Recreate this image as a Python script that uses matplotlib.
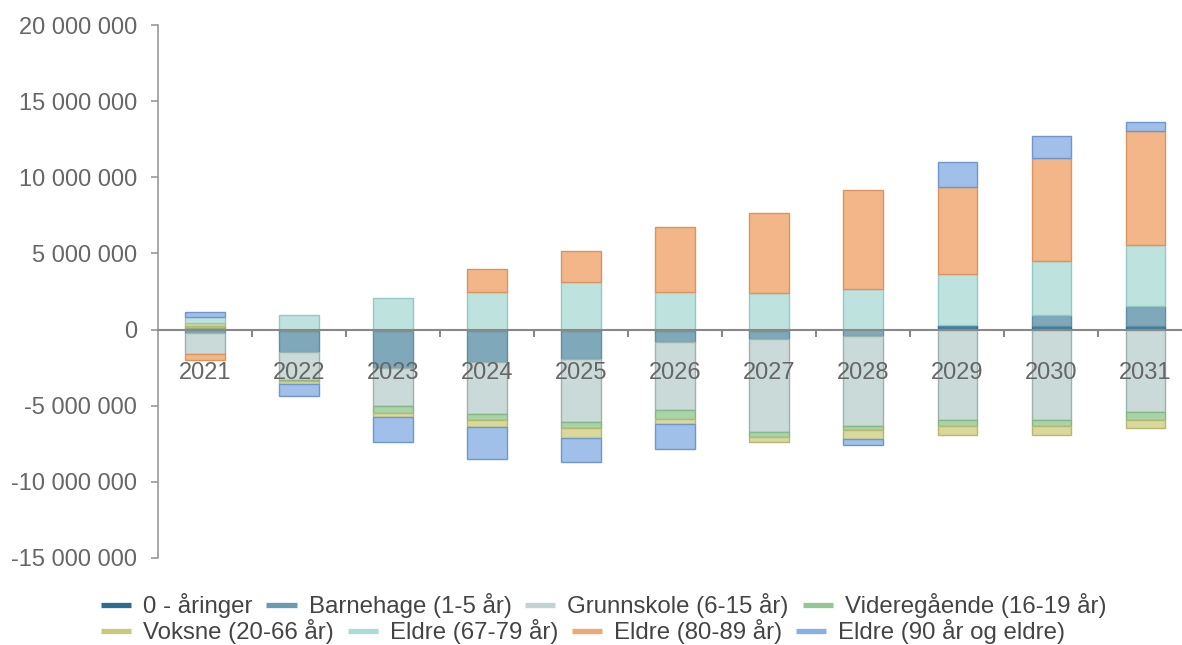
import numpy as np
import matplotlib
matplotlib.use("Agg")
import matplotlib.pyplot as plt
from matplotlib.ticker import FuncFormatter, FixedLocator
from matplotlib.lines import Line2D

plt.rcParams['font.family'] = ['Liberation Sans', 'DejaVu Sans']

years = ['2021', '2022', '2023', '2024', '2025', '2026', '2027', '2028', '2029', '2030', '2031']

# values in millions
null_aringer = [0.10, -0.10, -0.10, -0.10, -0.10, -0.10, -0.10, -0.05, 0.28, 0.22, 0.22]
barnehage = [-0.25, -1.35, -2.40, -2.05, -1.85, -0.70, -0.55, -0.35, 0.05, 0.76, 1.31]
grunnskole = [-1.35, -1.83, -2.55, -3.38, -4.10, -4.50, -6.10, -5.93, -5.93, -5.93, -5.40]
videregaende = [0.15, -0.10, -0.40, -0.44, -0.41, -0.54, -0.33, -0.26, -0.39, -0.39, -0.52]
voksne = [0.15, -0.20, -0.26, -0.44, -0.65, -0.35, -0.33, -0.57, -0.61, -0.61, -0.57]
eldre_67_79 = [0.45, 0.97, 2.10, 2.46, 3.15, 2.46, 2.40, 2.66, 3.30, 3.53, 4.03]
eldre_80_89 = [-0.40, 0.0, 0.0, 1.53, 2.03, 4.29, 5.23, 6.50, 5.73, 6.78, 7.47]
eldre_90 = [0.30, -0.78, -1.65, -2.07, -1.59, -1.68, 0.0, -0.42, 1.63, 1.39, 0.57]

labels = ['0 - åringer', 'Barnehage (1-5 år)', 'Grunnskole (6-15 år)', 'Videregående (16-19 år)',
          'Voksne (20-66 år)', 'Eldre (67-79 år)', 'Eldre (80-89 år)', 'Eldre (90 år og eldre)']
series = [null_aringer, barnehage, grunnskole, videregaende, voksne, eldre_67_79, eldre_80_89, eldre_90]
fills = ['#3f80a2', '#7fa9ba', '#c9dad8', '#a9d3a8', '#d8d99a', '#bee3df', '#f2b688', '#a1c0e9']
edges = ['#2d6a88', '#5f8fa3', '#9cb3b0', '#86b786', '#b7b872', '#94c8c2', '#d9955f', '#6f97cd']
legend_cols = ['#2b6d92', '#6a9bb2', '#c0d4d2', '#95c795', '#c9c97a', '#a9ddd6', '#f0a872', '#88afe8']

fig = plt.figure(figsize=(11.82, 6.45), dpi=100)
ax = fig.add_axes([158 / 1182, 87 / 645, 1 - 158 / 1182, 533 / 645])
ax.set_axisbelow(False)

x = np.arange(len(years))
pos_base = np.zeros(len(years))
neg_base = np.zeros(len(years))
for vals, fc, ec in zip(series, fills, edges):
    v = np.array(vals) * 1e6
    bottoms = np.where(v >= 0, pos_base, neg_base)
    mask = v != 0
    ax.bar(x[mask], v[mask], bottom=bottoms[mask], width=0.42, color=fc, edgecolor=ec,
           linewidth=1.0, zorder=1)
    pos_base = pos_base + np.where(v > 0, v, 0)
    neg_base = neg_base + np.where(v < 0, v, 0)

ax.set_ylim(-15e6, 20e6)
ax.set_xlim(-0.5, 10.39)
ax.set_yticks(np.arange(-15e6, 20e6 + 1, 5e6))
ax.yaxis.set_major_formatter(FuncFormatter(lambda v, p: f"{int(round(v)):,}".replace(",", " ")))

ax.spines['top'].set_visible(False)
ax.spines['right'].set_visible(False)
ax.spines['bottom'].set_position(('data', 0))
ax.spines['bottom'].set_color('#888888')
ax.spines['bottom'].set_linewidth(1.5)
ax.spines['bottom'].set_zorder(3)
ax.spines['left'].set_color('#999999')
ax.spines['left'].set_linewidth(1.2)

ax.set_xticks(x)
ax.set_xticklabels(years)
ax.xaxis.set_minor_locator(FixedLocator(x[:-1] + 0.5))
ax.tick_params(axis='x', which='major', length=0, pad=23, labelsize=17, labelcolor='#666666')
ax.tick_params(axis='x', which='minor', length=5, width=1.5, color='#888888', direction='out')
ax.tick_params(axis='y', length=5, width=1.2, color='#999999', pad=10, labelsize=17,
               labelcolor='#666666')

handles = [Line2D([0], [0], color=c, lw=3.8, solid_capstyle='butt') for c in legend_cols]
leg_kw = dict(frameon=False, ncol=4, handlelength=1.25, handletextpad=0.5, columnspacing=0.58,
              borderpad=0, borderaxespad=0, fontsize=17.3, labelcolor='#444444', loc='center left')
fig.legend(handles[:4], labels[:4], bbox_to_anchor=(101 / 1182, 1 - 606 / 645), **leg_kw)
fig.legend(handles[4:], labels[4:], bbox_to_anchor=(101 / 1182, 1 - 632 / 645), **leg_kw)

fig.savefig('out.png', dpi=100)
